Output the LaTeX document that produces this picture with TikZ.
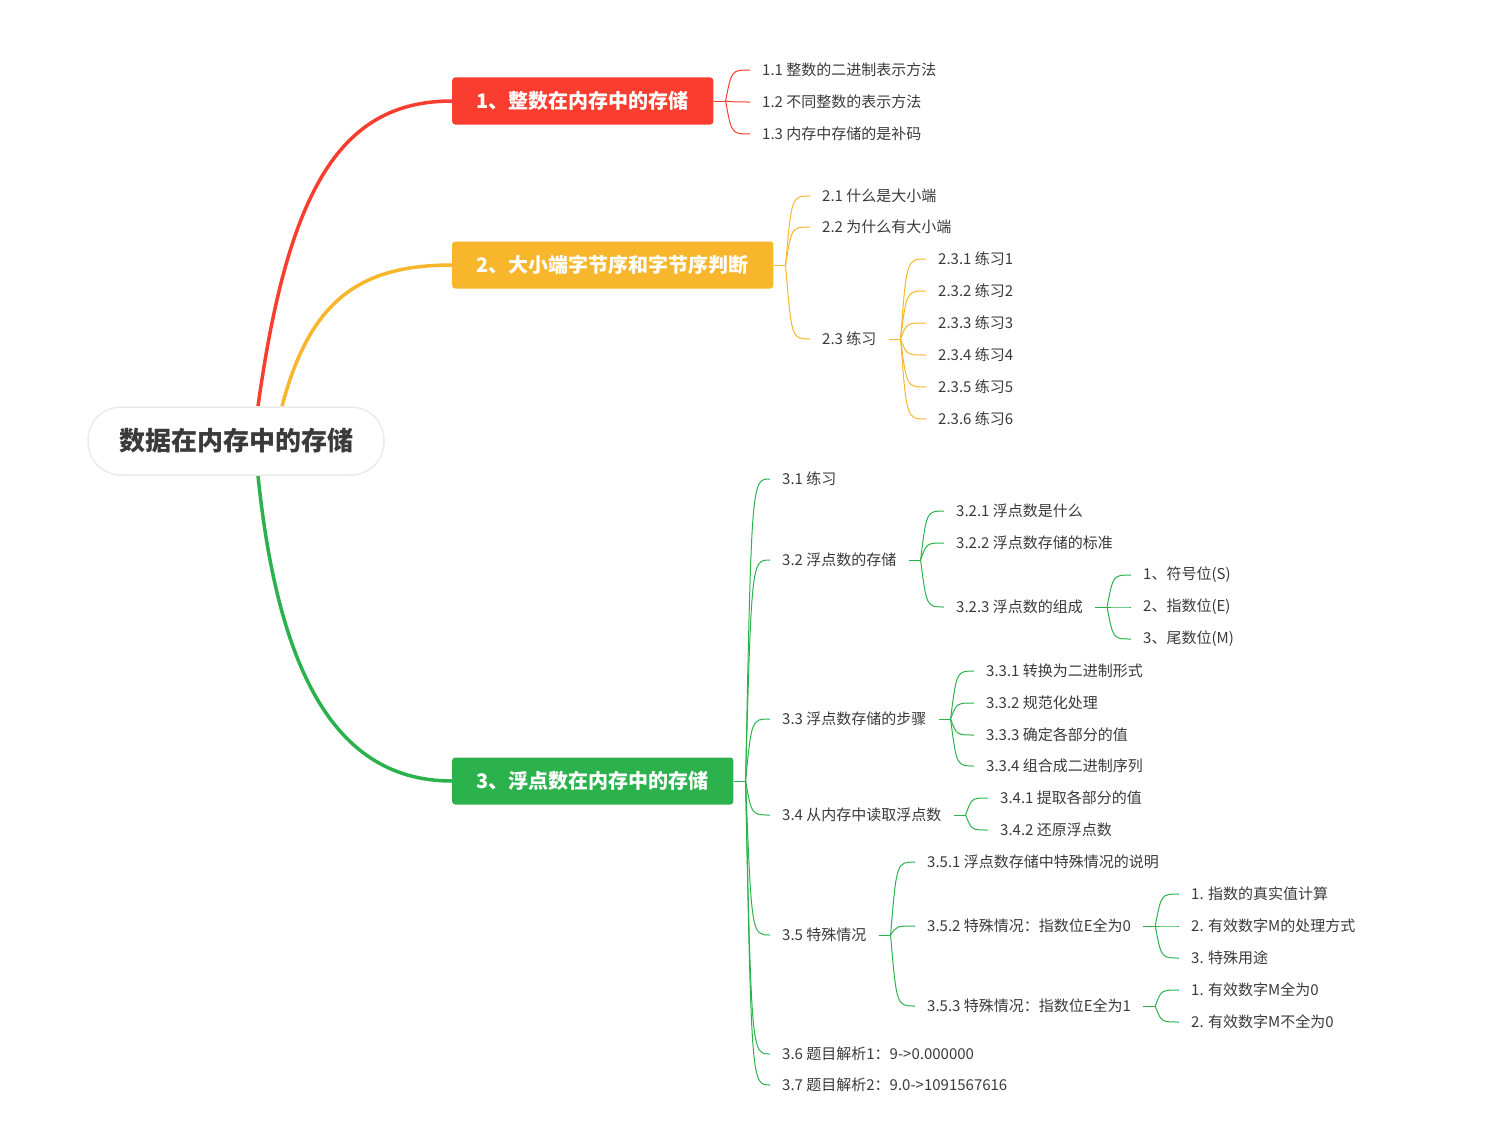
\documentclass[tikz,border=0pt]{standalone}
\usepackage{fontspec}
\setmainfont{Noto Sans CJK SC}
\usepackage{xcolor}
\definecolor{topicred}{HTML}{F93E30}
\definecolor{topicorange}{HTML}{F7B62B}
\definecolor{topicgreen}{HTML}{2BB24C}
\definecolor{txtgray}{HTML}{3A3A3A}
\definecolor{rootline}{HTML}{EBEBEB}
\usepackage{tikz}
\usetikzlibrary{calc, backgrounds}

\tikzset{
  leaf/.style={anchor=west, inner xsep=12pt, inner ysep=3pt,
               font=\fontsize{15}{18}\selectfont, text=txtgray},
  topic/.style={anchor=west, rounded corners=3pt, minimum height=47pt,
                inner xsep=24.5pt, text=white,
                font=\fontsize{20}{24}\selectfont\bfseries},
  twig/.style={to path={.. controls ($(\tikztostart |- \tikztotarget.west)+(6pt,0)$)
                        .. (\tikztotarget.west)}},
  redline/.style={topicred, line width=1pt},
  orangeline/.style={topicorange, line width=1pt},
  greenline/.style={topicgreen, line width=1pt},
}

\begin{document}
\begin{tikzpicture}[x=1pt, y=-1pt]
  \useasboundingbox (0,0) rectangle (1486,1148);

  % Root
  \node[draw=rootline, line width=1.5pt, fill=white, rounded corners=33pt,
        minimum width=296pt, minimum height=68pt, text=txtgray,
        font=\fontsize{26}{30}\selectfont\bfseries] (root) at (236,441) {数据在内存中的存储};

  % Topics
  \node[topic, fill=topicred]    (t1) at (452,101) {1、整数在内存中的存储};
  \node[topic, fill=topicorange] (t2) at (452,265) {2、大小端字节序和字节序判断};
  \node[topic, fill=topicgreen]  (t3) at (452,781) {3、浮点数在内存中的存储};

  \begin{scope}[on background layer]
    \draw[topicred, line width=3.5pt] ($(root.north)+(22,0)$)
      .. controls (288,190) and (340,101) .. (t1.west);
    \draw[topicorange, line width=3.5pt] ($(root.north)+(46,0)$)
      .. controls (310,300) and (360,265) .. (t2.west);
    \draw[topicgreen, line width=3.5pt] ($(root.south)+(22,0)$)
      .. controls (280,690) and (345,781) .. (t3.west);
  \end{scope}

  % 1: integers
  \node[leaf] (a11) at (750,70)  {1.1 整数的二进制表示方法};
  \node[leaf] (a12) at (750,102) {1.2 不同整数的表示方法};
  \node[leaf] (a13) at (750,134) {1.3 内存中存储的是补码};
  \coordinate (j1) at ($(t1.east)+(12,0)$);
  \draw[redline] (t1.east) -- (j1);
  \foreach \c in {a11,a12,a13} \draw[redline] (j1) to[twig] (\c);

  % 2: byte order
  \node[leaf] (b21) at (810,196) {2.1 什么是大小端};
  \node[leaf] (b22) at (810,227) {2.2 为什么有大小端};
  \node[leaf] (b23) at (810,339) {2.3 练习};
  \coordinate (j2) at ($(t2.east)+(12,0)$);
  \draw[orangeline] (t2.east) -- (j2);
  \foreach \c in {b21,b22,b23} \draw[orangeline] (j2) to[twig] (\c);

  \coordinate (j23) at ($(b23.east)+(12,0)$);
  \draw[orangeline] (b23.east) -- (j23);
  \foreach \i in {1,...,6} {
    \node[leaf] (b23\i) at (926,227+32*\i) {2.3.\i\ 练习\i};
    \draw[orangeline] (j23) to[twig] (b23\i);
  }

  % 3: floating point
  \node[leaf] (c31) at (770,479)  {3.1 练习};
  \node[leaf] (c32) at (770,560)  {3.2 浮点数的存储};
  \node[leaf] (c33) at (770,719)  {3.3 浮点数存储的步骤};
  \node[leaf] (c34) at (770,815)  {3.4 从内存中读取浮点数};
  \node[leaf] (c35) at (770,935)  {3.5 特殊情况};
  \node[leaf] (c36) at (770,1054) {3.6 题目解析1：9->0.000000};
  \node[leaf] (c37) at (770,1085) {3.7 题目解析2：9.0->1091567616};
  \coordinate (j3) at ($(t3.east)+(12,0)$);
  \draw[greenline] (t3.east) -- (j3);
  \foreach \c in {c31,c32,c33,c34,c35,c36,c37} \draw[greenline] (j3) to[twig] (\c);

  % 3.2
  \node[leaf] (c321) at (944,511) {3.2.1 浮点数是什么};
  \node[leaf] (c322) at (944,543) {3.2.2 浮点数存储的标准};
  \node[leaf] (c323) at (944,607) {3.2.3 浮点数的组成};
  \coordinate (j32) at ($(c32.east)+(12,0)$);
  \draw[greenline] (c32.east) -- (j32);
  \foreach \c in {c321,c322,c323} \draw[greenline] (j32) to[twig] (\c);

  \node[leaf] (c3231) at (1131,575) {1、符号位(S)};
  \node[leaf] (c3232) at (1131,607) {2、指数位(E)};
  \node[leaf] (c3233) at (1131,639) {3、尾数位(M)};
  \coordinate (j323) at ($(c323.east)+(12,0)$);
  \draw[greenline] (c323.east) -- (j323);
  \foreach \c in {c3231,c3232,c3233} \draw[greenline] (j323) to[twig] (\c);

  % 3.3
  \node[leaf] (c331) at (974,671) {3.3.1 转换为二进制形式};
  \node[leaf] (c332) at (974,703) {3.3.2 规范化处理};
  \node[leaf] (c333) at (974,735) {3.3.3 确定各部分的值};
  \node[leaf] (c334) at (974,766) {3.3.4 组合成二进制序列};
  \coordinate (j33) at ($(c33.east)+(12,0)$);
  \draw[greenline] (c33.east) -- (j33);
  \foreach \c in {c331,c332,c333,c334} \draw[greenline] (j33) to[twig] (\c);

  % 3.4
  \node[leaf] (c341) at (988,798) {3.4.1 提取各部分的值};
  \node[leaf] (c342) at (988,830) {3.4.2 还原浮点数};
  \coordinate (j34) at ($(c34.east)+(12,0)$);
  \draw[greenline] (c34.east) -- (j34);
  \foreach \c in {c341,c342} \draw[greenline] (j34) to[twig] (\c);

  % 3.5
  \node[leaf] (c351) at (915,862)  {3.5.1 浮点数存储中特殊情况的说明};
  \node[leaf] (c352) at (915,926)  {3.5.2 特殊情况：指数位E全为0};
  \node[leaf] (c353) at (915,1006) {3.5.3 特殊情况：指数位E全为1};
  \coordinate (j35) at ($(c35.east)+(12,0)$);
  \draw[greenline] (c35.east) -- (j35);
  \foreach \c in {c351,c352,c353} \draw[greenline] (j35) to[twig] (\c);

  \node[leaf] (c3521) at (1179,894) {1. 指数的真实值计算};
  \node[leaf] (c3522) at (1179,926) {2. 有效数字M的处理方式};
  \node[leaf] (c3523) at (1179,958) {3. 特殊用途};
  \coordinate (j352) at ($(c352.east)+(12,0)$);
  \draw[greenline] (c352.east) -- (j352);
  \foreach \c in {c3521,c3522,c3523} \draw[greenline] (j352) to[twig] (\c);

  \node[leaf] (c3531) at (1179,990)  {1. 有效数字M全为0};
  \node[leaf] (c3532) at (1179,1022) {2. 有效数字M不全为0};
  \coordinate (j353) at ($(c353.east)+(12,0)$);
  \draw[greenline] (c353.east) -- (j353);
  \foreach \c in {c3531,c3532} \draw[greenline] (j353) to[twig] (\c);
\end{tikzpicture}
\end{document}
